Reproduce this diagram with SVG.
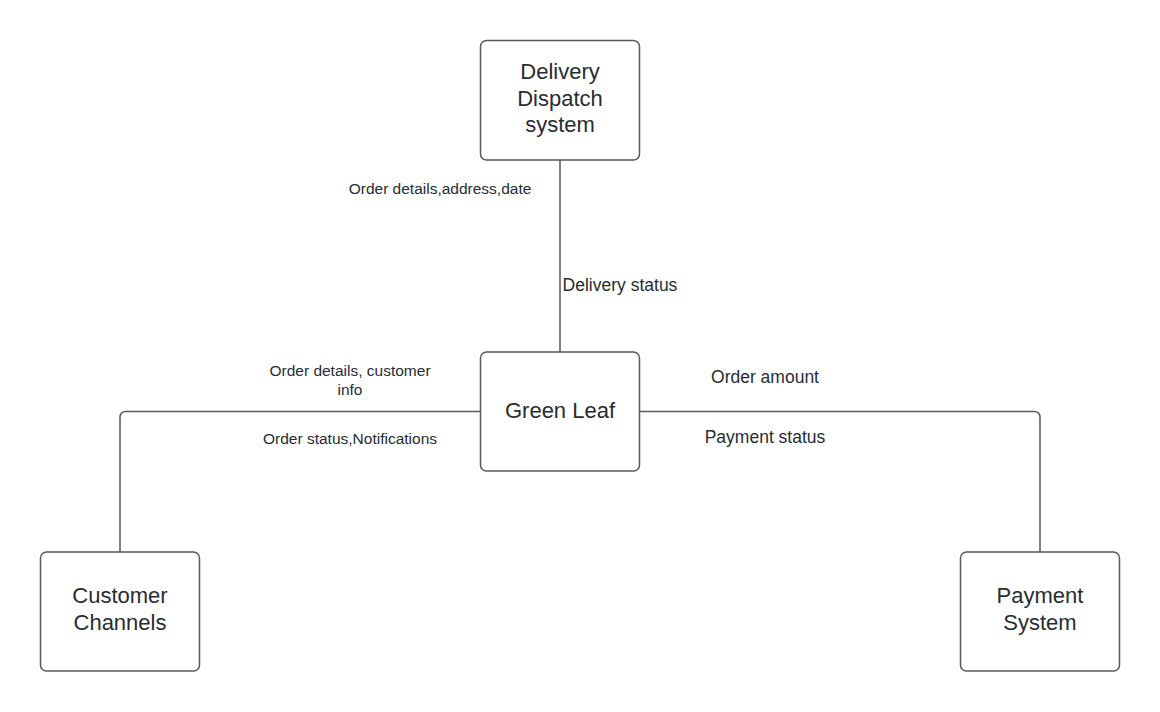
<svg xmlns="http://www.w3.org/2000/svg" width="1160" height="712" viewBox="0 0 1160 712">
<style>
.box{fill:#ffffff;stroke:#5a5a5a;stroke-width:1.5}
.conn{fill:none;stroke:#5a5a5a;stroke-width:1.5}
.nt{font-family:"Liberation Sans",Arial,sans-serif;font-size:22px;fill:#282c33;text-anchor:middle}
.lb{font-family:"Liberation Sans",Arial,sans-serif;fill:#282c33;text-anchor:middle}
.s15{font-size:15.5px}
.s17{font-size:17.5px}
</style>
<rect width="1160" height="712" fill="#ffffff"/>
<g id="connectors">
<path class="conn" d="M560,160 V352"/>
<path class="conn" d="M480,411.5 H126 Q120,411.5 120,417.5 V552"/>
<path class="conn" d="M640,411.5 H1034 Q1040,411.5 1040,417.5 V552"/>
</g>
<g id="delivery">
<rect class="box" x="480.5" y="40.5" width="159" height="119.5" rx="6"/>
<text class="nt" x="560" y="79">Delivery</text>
<text class="nt" x="560" y="105.5">Dispatch</text>
<text class="nt" x="560" y="132">system</text>
</g>
<g id="greenleaf">
<rect class="box" x="480.5" y="352" width="159" height="119" rx="6"/>
<text class="nt" x="560" y="418">Green Leaf</text>
</g>
<g id="customer">
<rect class="box" x="40.5" y="552" width="159" height="119" rx="6"/>
<text class="nt" x="120" y="603">Customer</text>
<text class="nt" x="120" y="629.5">Channels</text>
</g>
<g id="payment">
<rect class="box" x="960.5" y="552" width="159" height="119" rx="6"/>
<text class="nt" x="1040" y="603">Payment</text>
<text class="nt" x="1040" y="629.5">System</text>
</g>
<g id="labels">
<text class="lb s15" x="440" y="194">Order details,address,date</text>
<text class="lb s17" x="620" y="291">Delivery status</text>
<text class="lb s15" x="350" y="376">Order details, customer</text>
<text class="lb s15" x="350" y="395">info</text>
<text class="lb s15" x="350" y="444">Order status,Notifications</text>
<text class="lb s17" x="765" y="383">Order amount</text>
<text class="lb s17" x="765" y="443">Payment status</text>
</g>
</svg>
